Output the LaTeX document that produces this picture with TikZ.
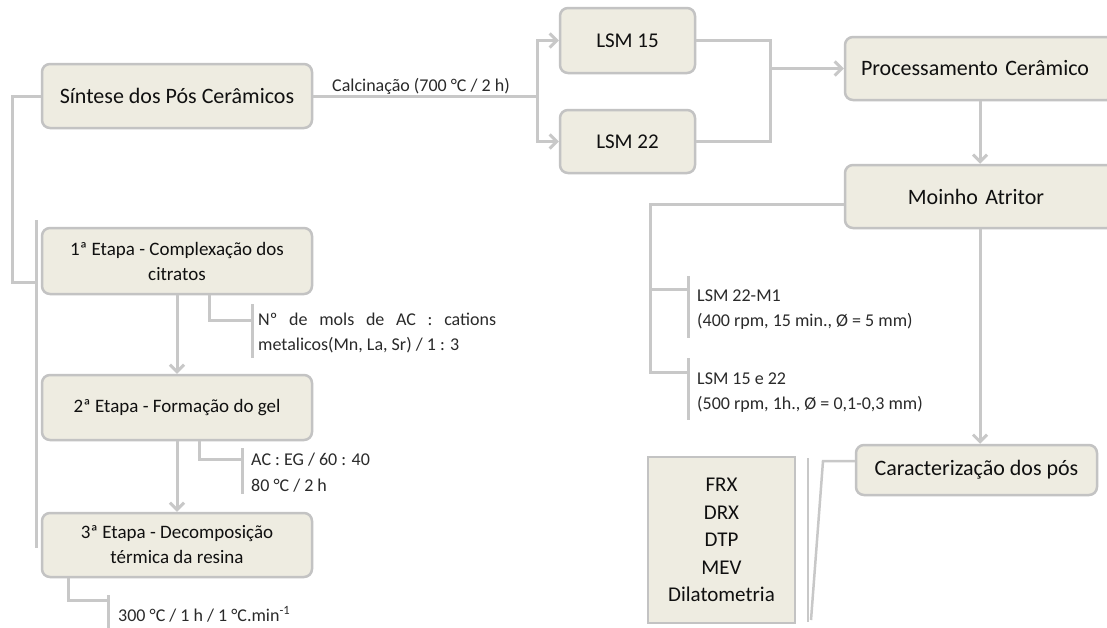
\documentclass[tikz,border=0pt]{standalone}
\usepackage{fontspec}
\setmainfont{Carlito}
\usetikzlibrary{arrows.meta}
\definecolor{boxfill}{HTML}{EEECE1}
\definecolor{boxline}{HTML}{C3C3C3}
\definecolor{conn}{HTML}{C8C8C8}
\definecolor{txt}{HTML}{101010}
\definecolor{ann}{HTML}{2A2A2A}
\begin{document}
\begin{tikzpicture}[x=1pt,y=-1pt,
  box/.style={draw=boxline, line width=2.5pt, fill=boxfill, rounded corners=8pt, inner sep=0pt, align=center, text=txt},
  bigbox/.style={box, font=\fontsize{22}{26}\selectfont},
  stepbox/.style={box, font=\fontsize{19}{25}\selectfont, minimum width=270pt},
  conline/.style={draw=conn, line width=3pt},
  arr/.style={conline, -{Straight Barb[length=7pt,width=14pt]}},
  annot/.style={anchor=base west, inner sep=0pt, text=ann, font=\fontsize{18}{25}\selectfont},
]
\clip (0,0) rectangle (1107,627);
\fill[white] (0,0) rectangle (1107,627);

% boxes
\node[bigbox, minimum width=270pt, minimum height=64pt] (S) at (177,96) {Síntese dos Pós Cerâmicos};
\node[stepbox, minimum height=66pt] (E1) at (177,261) {1ª Etapa - Complexação dos\\citratos};
\node[stepbox, minimum height=65pt] (E2) at (177,407.5) {2ª Etapa - Formação do gel};
\node[stepbox, minimum height=64pt] (E3) at (177,545) {3ª Etapa - Decomposição\\térmica da resina};
\node[bigbox, font=\fontsize{21}{26}\selectfont, minimum width=135pt, minimum height=65pt] (L15) at (627.5,40.5) {LSM 15};
\node[bigbox, font=\fontsize{21}{26}\selectfont, minimum width=135pt, minimum height=63pt] (L22) at (627.5,141.5) {LSM 22};
\node[bigbox, minimum width=270pt, minimum height=63pt, text width=260pt] (P) at (980,68.5) {\hspace*{-10pt}Processamento Cerâmico};
\node[bigbox, minimum width=270pt, minimum height=63pt, text width=260pt] (M) at (980,196.5) {\hspace*{-8pt}Moinho Atritor};
\node[bigbox, minimum width=241pt, minimum height=50pt] (C) at (976.5,470) {Caracterização dos pós};
\node[box, rounded corners=0pt, font=\fontsize{21}{27.5}\selectfont, minimum width=147pt, minimum height=166pt] (T) at (721.5,540) {FRX\\DRX\\DTP\\MEV\\Dilatometria};

% top flow
\coordinate (sp) at (537,96);
\draw[conline] (S.east) -- (sp);
\draw[arr] (sp) |- (L15.west);
\draw[arr] (sp) |- (L22.west);
\node[annot] (calc) at (332,91) {Calcinação (700 °C / 2 h)};
\coordinate (jn) at (770,68.5);
\draw[conline] (L15.east) -| (jn);
\draw[conline] (L22.east) -| (jn);
\draw[arr] (jn) -- (P.west);
\draw[arr] (P.south) -- (M.north);
\draw[arr] (M.south) -- (M.south |- C.north);

% left column
\draw[conline] (S.west) -| (12,282) -- (36,282);
\draw[conline] (36,220) -- (36,548);
\draw[arr] (E1.south) -- (E2.north);
\draw[arr] (E2.south) -- (E3.north);

\draw[conline] ([xshift=32pt]E1.south) |- (252,320);
\draw[conline] (252,304) -- (252,358);
\node[annot] (a1) at (258,325) {\makebox[238pt][s]{Nº de mols de AC : cations}};
\node[annot] (a2) at (258,350) {metalicos(Mn, La, Sr) / 1 : 3};

\draw[conline] ([xshift=22pt]E2.south) |- (242,459);
\draw[conline] (242,448) -- (242,494);
\node[annot] (b1) at (251,465) {AC : EG / 60 : 40};
\node[annot] (b2) at (251,491) {80 °C / 2 h};

\draw[conline] ([xshift=-109pt]E3.south) |- (108,600);
\draw[conline] (108,595) -- (108,630);
\node[annot] (c1) at (118,621) {300 °C / 1 h / 1 °C.min\textsuperscript{-1}};

% mill branches
\draw[conline] ([yshift=-7.5pt]M.west) -| (650,372) -- (688,372);
\draw[conline] (650,289) -- (688,289);
\draw[conline] (688,276) -- (688,338);
\draw[conline] (688,358) -- (688,420);
\node[annot] (m1) at (697,301) {LSM 22-M1};
\node[annot] (m2) at (697,326) {(400 rpm, 15 min., Ø = 5 mm)};
\node[annot] (m3) at (697,384) {LSM 15 e 22};
\node[annot] (m4) at (697,409) {(500 rpm, 1h., Ø = 0,1-0,3 mm)};

% characterization bracket
\draw[conline, line width=2.5pt] ([yshift=9pt]C.west) -- (823,461) -- (811,620);
\draw[conline, line width=2.5pt] (808,458) -- (808,622);
\end{tikzpicture}
\end{document}
